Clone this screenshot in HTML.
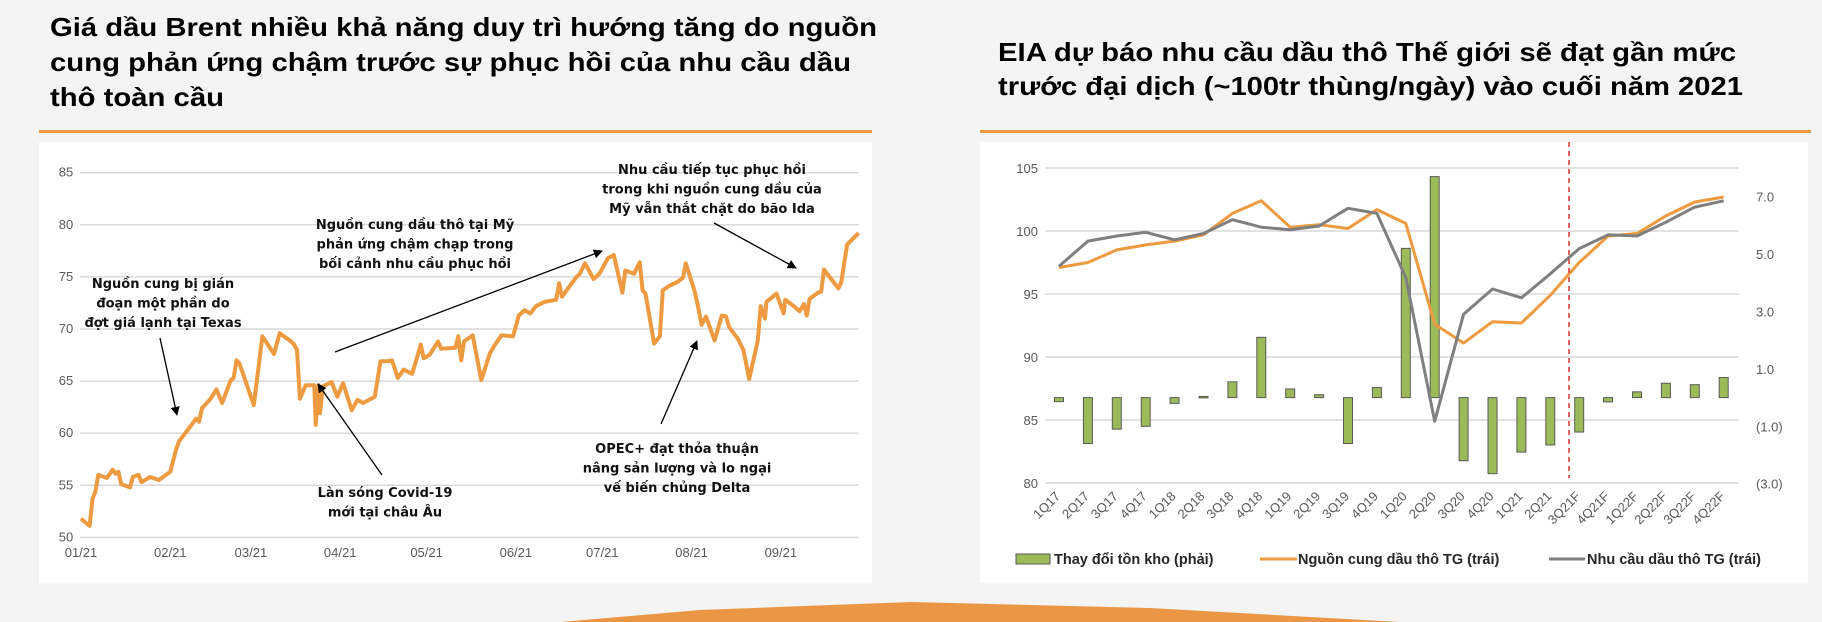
<!DOCTYPE html>
<html><head><meta charset="utf-8"><style>
html,body{margin:0;padding:0;background:#f4f4f4;}
svg{display:block;font-family:"Liberation Sans",sans-serif;}
.t{font-weight:bold;font-size:26px;fill:#000;}
.ann{font-family:"DejaVu Sans","Liberation Sans",sans-serif;font-weight:bold;font-size:13px;fill:#111;}
.tick{font-size:13px;fill:#595959;}
.leg{font-size:14.5px;fill:#262626;font-weight:bold;}
</style></head><body>
<svg id="s" width="1822" height="622" viewBox="0 0 1822 622" xmlns="http://www.w3.org/2000/svg">
<defs><marker id="ah" viewBox="0 0 10 10" refX="9" refY="5" markerWidth="7" markerHeight="7" orient="auto"><path d="M0,0 L10,5 L0,10 z" fill="#000"/></marker></defs>
<rect x="0" y="0" width="1822" height="622" fill="#f4f4f4"/>
<polygon points="560,622 700,610 911,602 1150,608 1400,622" fill="#eb9645"/>
<g>
<text class="t" x="50" y="36" textLength="827" lengthAdjust="spacingAndGlyphs">Giá dầu Brent nhiều khả năng duy trì hướng tăng do nguồn</text>
<text class="t" x="50" y="71" textLength="801" lengthAdjust="spacingAndGlyphs">cung phản ứng chậm trước sự phục hồi của nhu cầu dầu</text>
<text class="t" x="50" y="106" textLength="174" lengthAdjust="spacingAndGlyphs">thô toàn cầu</text>
</g>
<g>
<text class="t" x="998" y="61" textLength="738" lengthAdjust="spacingAndGlyphs">EIA dự báo nhu cầu dầu thô Thế giới sẽ đạt gần mức</text>
<text class="t" x="998" y="95" textLength="745" lengthAdjust="spacingAndGlyphs">trước đại dịch (~100tr thùng/ngày) vào cuối năm 2021</text>
</g>
<rect x="39" y="130" width="833" height="3" fill="#ee9a40"/>
<rect x="980" y="130" width="831" height="3" fill="#ee9a40"/>
<rect x="39" y="142" width="833" height="441" fill="#fff"/>
<rect x="980" y="142" width="828" height="441" fill="#fff"/>
<g id="L"></g>
<g id="R"></g>
</svg>
<script>
// ---- Left chart data (Brent, day offset from 01/01/2021) ----
const brentDays=[0,3,4,5,6,9,11,12,13,14,17,18,20,21,24,26,27,31,33,34,37,40,41,42,45,47,49,52,53,54,55,60,63,67,69,73,74,75,76,78,81,81.5,82.5,83,84,87,89,91,94,96,98,102,104,106,108,110,112,115,118,119,121,124,125,130,131,132,133,136,139,142,144,146,150,152,154,156,158,161,165,166,167,172,173,175,178,180,183,185,188,189,192,194,195,196,199,201,202,204,207,209,210,213,214,215.5,217,220,222.5,224,225,228,230,232,235,236,237.5,238,241.5,244,244.5,247,249.5,251,252,253,256,257,258,263,264,266,270];
const brentPrices=[51.8,51.1,53.7,54.4,56.0,55.7,56.5,56.1,56.3,55.1,54.8,55.8,56.0,55.3,55.8,55.6,55.5,56.3,58.4,59.2,60.3,61.4,61.1,62.4,63.3,64.2,62.9,65.1,65.3,67.0,66.7,62.7,69.3,67.6,69.6,68.8,68.5,68.0,63.3,64.6,64.6,60.8,64.6,61.9,64.5,64.9,63.5,64.8,62.2,63.2,62.9,63.5,66.9,66.9,67.0,65.3,66.1,65.7,68.5,67.2,67.5,68.8,68.1,68.2,69.3,67.0,68.8,69.4,65.1,67.7,68.6,69.4,69.3,71.3,71.8,71.5,72.2,72.6,72.8,74.4,73.1,75.0,75.2,76.3,74.8,75.3,76.8,77.1,73.5,75.6,75.3,76.4,73.7,73.4,68.6,69.3,73.7,74.1,74.5,74.9,76.3,73.7,72.5,70.4,71.2,68.9,71.3,71.2,70.2,69.1,68.0,65.2,68.9,72.2,71.0,72.6,73.4,71.5,72.8,72.3,71.7,72.4,71.3,72.9,73.5,73.6,75.7,73.9,74.5,78.1,79.2];
const brentTicks=[50,55,60,65,70,75,80,85];
const monthLabels=["01/21","02/21","03/21","04/21","05/21","06/21","07/21","08/21","09/21"];
const monthDays=[0,31,59,90,120,151,181,212,243];

// ---- Right chart data ----
const quarters=["1Q17","2Q17","3Q17","4Q17","1Q18","2Q18","3Q18","4Q18","1Q19","2Q19","3Q19","4Q19","1Q20","2Q20","3Q20","4Q20","1Q21","2Q21","3Q21F","4Q21F","1Q22F","2Q22F","3Q22F","4Q22F"];
const supply=[97.1,97.5,98.5,98.9,99.2,99.7,101.4,102.4,100.3,100.5,100.2,101.7,100.6,92.6,91.1,92.8,92.7,94.9,97.5,99.6,99.8,101.2,102.3,102.7];
const demand=[97.2,99.2,99.6,99.9,99.3,99.8,100.9,100.3,100.1,100.4,101.8,101.4,96.3,84.9,93.4,95.4,94.7,96.6,98.6,99.7,99.6,100.7,101.9,102.4];
const stockChange=[-0.14,-1.6,-1.1,-1.0,-0.2,0.04,0.55,2.1,0.3,0.1,-1.6,0.35,5.2,7.7,-2.2,-2.65,-1.9,-1.65,-1.2,-0.15,0.2,0.5,0.45,0.7];
const leftTicks=[80,85,90,95,100,105];
const rightTicks=[-3,-1,1,3,5,7];
const rightTickLabels=["(3.0)","(1.0)","1.0","3.0","5.0","7.0"];

const NS="http://www.w3.org/2000/svg";
function mk(parent,tag,attrs){const e=document.createElementNS(NS,tag);for(const k in attrs)e.setAttribute(k,attrs[k]);parent.appendChild(e);return e;}

// Left chart
const L=document.getElementById('L');
const lx=d=>81+d*2.88;
const ly=v=>172.7+(85-v)*10.42;
brentTicks.forEach(v=>{
  const g=mk(L,'line',{x1:80,x2:859,y1:ly(v),y2:ly(v),stroke:'#d9d9d9','stroke-width':1.5});
  
  
  const t=mk(L,'text',{x:66,y:ly(v)+4,'text-anchor':'middle',class:'tick'});t.textContent=v;
  
  
});
monthLabels.forEach((m,i)=>{
  const t=mk(L,'text',{x:lx(monthDays[i]),y:557,'text-anchor':'middle',class:'tick'});t.textContent=m;
  
  
});
let pd='';brentDays.forEach((d,i)=>{pd+=(i?'L':'M')+lx(d).toFixed(1)+','+ly(brentPrices[i]).toFixed(1);});
const bl=mk(L,'path',{d:pd,fill:'none',stroke:'#ed9a40','stroke-width':4,'stroke-linejoin':'round'});


const anns=[
 {lines:["Nguồn cung bị gián","đoạn một phần do","đợt giá lạnh tại Texas"],cx:163,y0:283,a:[160,338,177,415]},
 {lines:["Nguồn cung dầu thô tại Mỹ","phản ứng chậm chạp trong","bối cảnh nhu cầu phục hồi"],cx:415,y0:224,a:[335,352,602,251]},
 {lines:["Làn sóng Covid-19","mới tại châu Âu"],cx:385,y0:492,a:[382,475,318,384]},
 {lines:["OPEC+ đạt thỏa thuận","nâng sản lượng và lo ngại","vế biến chủng Delta"],cx:677,y0:448,a:[661,424,697,341]},
 {lines:["Nhu cầu tiếp tục phục hồi","trong khi nguồn cung dầu của","Mỹ vẫn thắt chặt do bão Ida"],cx:712,y0:169,a:[714,223,796,268]}
];
anns.forEach(a=>{
  a.lines.forEach((s,i)=>{
    const t=mk(L,'text',{x:a.cx,y:a.y0+i*19.5+5,'text-anchor':'middle',class:'ann'});t.textContent=s;
    
    
  });
  const ar=mk(L,'line',{x1:a.a[0],y1:a.a[1],x2:a.a[2],y2:a.a[3],stroke:'#000','stroke-width':1.3,'marker-end':'url(#ah)'});
  
  
});

// Right chart
const R=document.getElementById('R');
const rx=i=>1059+i*28.9;
const yl=v=>483+(80-v)*12.6;
const yr=v=>397.6-v*28.7;
leftTicks.forEach(v=>{
  const g=mk(R,'line',{x1:1045,x2:1739,y1:yl(v),y2:yl(v),stroke:'#d9d9d9','stroke-width':1.5});
  
  
  const t=mk(R,'text',{x:1038,y:yl(v)+5,'text-anchor':'end',class:'tick'});t.textContent=v;
  
  
});
rightTicks.forEach((v,i)=>{
  const t=mk(R,'text',{x:1756,y:yr(v)+5,class:'tick'});t.textContent=rightTickLabels[i];
  
  
});
stockChange.forEach((v,i)=>{
  const y0=yr(0),y1=yr(v);
  const b=mk(R,'rect',{x:rx(i)-4.5,y:Math.min(y0,y1),width:9,height:Math.max(1.5,Math.abs(y1-y0)),fill:'#9bbb59',stroke:'#5a5a5a','stroke-width':1});
  
  
});
function line(arr,color,name){
  let d='';arr.forEach((v,i)=>{d+=(i?'L':'M')+rx(i).toFixed(1)+','+yl(v).toFixed(1);});
  const p=mk(R,'path',{d:d,fill:'none',stroke:color,'stroke-width':3,'stroke-linejoin':'round'});
  
  
}
line(supply,'#ed9a40','supply-line');
line(demand,'#7f7f7f','demand-line');
const dl=mk(R,'line',{x1:1569,x2:1569,y1:142,y2:478,stroke:'#e0302a','stroke-width':1.5,'stroke-dasharray':'5,4'});


quarters.forEach((q,i)=>{
  const x=rx(i)+2,y=497;
  const t=mk(R,'text',{x:x,y:y,'text-anchor':'end',class:'tick',transform:`rotate(-45 ${x} ${y})`});t.textContent=q;
  
  
});
// legend
const lg=mk(R,'g',{});


const e1=mk(lg,'rect',{x:1016,y:554,width:34,height:10,fill:'#9bbb59',stroke:'#5a5a5a','stroke-width':1});


const t1=mk(lg,'text',{x:1054,y:564,class:'leg'});t1.textContent='Thay đổi tồn kho (phải)';


const e2=mk(lg,'line',{x1:1260,x2:1297,y1:559,y2:559,stroke:'#ed9a40','stroke-width':3});


const t2=mk(lg,'text',{x:1298,y:564,class:'leg'});t2.textContent='Nguồn cung dầu thô TG (trái)';


const e3=mk(lg,'line',{x1:1549,x2:1585,y1:559,y2:559,stroke:'#7f7f7f','stroke-width':3});


const t3=mk(lg,'text',{x:1587,y:564,class:'leg'});t3.textContent='Nhu cầu dầu thô TG (trái)';


</script>
</body></html>
